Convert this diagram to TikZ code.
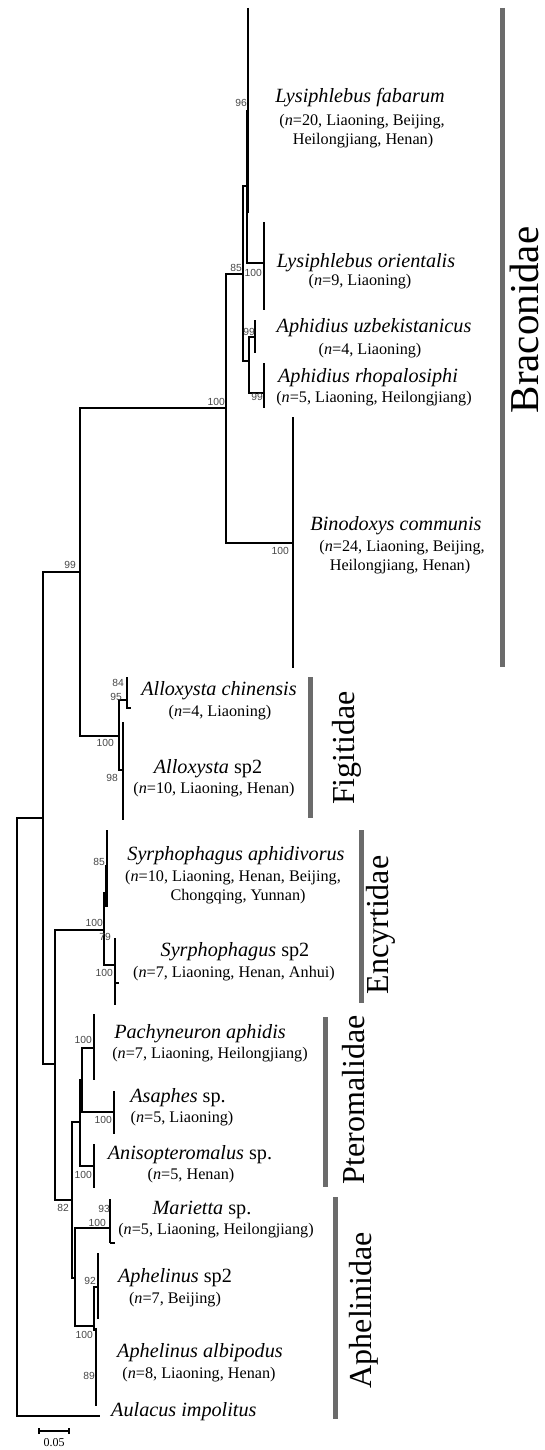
\documentclass[tikz,border=0pt]{standalone}
\usepackage{fontspec}
\setmainfont{Liberation Serif}
\newfontfamily\bsfont{Liberation Sans}
\begin{document}
\begin{tikzpicture}[x=1pt,y=-1pt,
  br/.style={line width=1.7pt},
  thk/.style={line width=2.8pt},
  sp/.style={font=\fontsize{20.2}{22}\selectfont\itshape, inner sep=0pt, text height=0.7em, text depth=0.22em},
  loc/.style={font=\fontsize{16.2}{18}\selectfont, inner sep=0pt, text height=0.7em, text depth=0.22em},
  bs/.style={font=\bsfont\fontsize{10.3}{11}\selectfont, text=black!72, inner sep=0pt, anchor=east},
  fam/.style={font=\fontsize{32}{34}\selectfont, rotate=90, inner sep=0pt},
  bar/.style={line width=5pt, draw=black!58}]
\useasboundingbox (0,0) rectangle (544,1450);
% ---- inner nodes and tip attachment points
\coordinate (R) at (17,1100);
\coordinate (I) at (43,818);
\coordinate (BF) at (80,572);
\coordinate (Br) at (226,408);
\coordinate (N85) at (243,274);
\coordinate (Lys) at (247,186);
\coordinate (LOt) at (264,263);
\coordinate (Aph) at (249,361);
\coordinate (AUt) at (255,337);
\coordinate (ARt) at (264,393);
\coordinate (Bint) at (293,543);
\coordinate (Fi) at (119,736);
\coordinate (ACt) at (127,700);
\coordinate (ASt) at (123,770);
\coordinate (Ch) at (55,1064);
\coordinate (Enc) at (104,930);
\coordinate (SAt) at (107,893);
\coordinate (SSt) at (115,965);
\coordinate (PA) at (72,1200);
\coordinate (Pt) at (80,1122);
\coordinate (PAs) at (82,1080);
\coordinate (Pat) at (94,1048);
\coordinate (Ast) at (114,1112);
\coordinate (Ant) at (94,1166);
\coordinate (Ap) at (75,1278);
\coordinate (Mat) at (110,1228);
\coordinate (Aph2) at (94,1326);
\coordinate (A2t) at (98,1287);
\coordinate (AAt) at (96,1330);
\coordinate (Ault) at (100,1416);
% ---- branches
\draw[br] (R) |- (I);
\draw[br] (R) |- (Ault);
\draw[br] (I) |- (BF);
\draw[br] (I) |- (Ch);
\draw[br] (BF) |- (Br);
\draw[br] (BF) |- (Fi);
\draw[br] (Br) |- (N85);
\draw[br] (Br) |- (Bint);
\draw[br] (N85) |- (Lys);
\draw[br] (N85) |- (Aph);
\draw[br] (Lys) |- (LOt);
\draw[br] (Aph) |- (AUt);
\draw[br] (Aph) |- (ARt);
\draw[br] (Fi) |- (ACt);
\draw[br] (Fi) |- (ASt);
\draw[br] (Ch) |- (Enc);
\draw[br] (Ch) |- (PA);
\draw[br] (Enc) |- (SAt);
\draw[br] (Enc) |- (SSt);
\draw[br] (PA) |- (Pt);
\draw[br] (PA) |- (Ap);
\draw[br] (Pt) |- (PAs);
\draw[br] (Pt) |- (Ant);
\draw[br] (PAs) |- (Pat);
\draw[br] (PAs) |- (Ast);
\draw[br] (Ap) |- (Mat);
\draw[br] (Ap) |- (Aph2);
\draw[br] (Aph2) |- (A2t);
\draw[br] (Aph2) |- (AAt);
% ---- collapsed clades (tip bars)
\draw[br] (248,8) -- (248,213);
\draw[thk] (247.6,110) -- (247.6,213);
\draw[br] (264,222) -- (264,310);
\draw[br] (255,320) -- (255,353);
\draw[br] (264,363) -- (264,408);
\draw[br] (293,417) -- (293,668);
\draw[thk] (127,677) -- (127,703);
\draw[br] (127,700) -- (127,708) -- (131,708);
\draw[br] (123,722) -- (123,820);
\draw[br] (107,830) -- (107,907);
\draw[thk] (106.5,865) -- (106.5,907);
\draw[br] (104,893) -- (107,893);
\draw[br] (115,938) -- (115,1005);
\draw[br] (115,983) -- (119,983);
\draw[br] (94,1014) -- (94,1080);
\draw[br] (114,1091) -- (114,1134);
\draw[br] (94,1144) -- (94,1188);
\draw[thk] (110,1199) -- (110,1243);
\draw[br] (110,1243) -- (115,1243);
\draw[br] (98,1253) -- (98,1319);
\draw[thk] (96,1328) -- (96,1406);
% ---- bootstrap values
\node[bs] (b96) at (247,103) {96};
\node[bs] (b85a) at (242,268) {85};
\node[bs] (b100a) at (262,273) {100};
\node[bs] (b99a) at (255,332) {99};
\node[bs] (b99b) at (263,397) {99};
\node[bs] (b100b) at (225,402) {100};
\node[bs] (b100c) at (289,551) {100};
\node[bs] (b99c) at (76,565) {99};
\node[bs] (b84) at (124,683) {84};
\node[bs] (b95) at (122,697) {95};
\node[bs] (b100d) at (114,743) {100};
\node[bs] (b98) at (118,778) {98};
\node[bs] (b85b) at (105,862) {85};
\node[bs] (b100e) at (103,923) {100};
\node[bs] (b79) at (111,937) {79};
\node[bs] (b100f) at (113,973) {100};
\node[bs] (b100g) at (92,1040) {100};
\node[bs] (b100h) at (112,1120) {100};
\node[bs] (b100i) at (92,1175) {100};
\node[bs] (b82) at (69,1208) {82};
\node[bs] (b93) at (110,1209) {93};
\node[bs] (b100j) at (106,1223) {100};
\node[bs] (b92) at (96,1281) {92};
\node[bs] (b100k) at (93,1335) {100};
\node[bs] (b89) at (95,1376) {89};
% ---- taxon labels
\node[sp] (t1) at (360,100) {Lysiphlebus fabarum};
\node[loc] (t1a) at (362,123) {(\textit{n}=20, Liaoning, Beijing,};
\node[loc] (t1b) at (363,142) {Heilongjiang, Henan)};
\node[sp] (t2) at (366,265) {Lysiphlebus orientalis};
\node[loc] (t2a) at (360,283) {(\textit{n}=9, Liaoning)};
\node[sp] (t3) at (374,330) {Aphidius uzbekistanicus};
\node[loc] (t3a) at (370,352) {(\textit{n}=4, Liaoning)};
\node[sp] (t4) at (368,380) {Aphidius rhopalosiphi};
\node[loc] (t4a) at (374,400) {(\textit{n}=5, Liaoning, Heilongjiang)};
\node[sp] (t5) at (396,528) {Binodoxys communis};
\node[loc] (t5a) at (402,549) {(\textit{n}=24, Liaoning, Beijing,};
\node[loc] (t5b) at (400,568) {Heilongjiang, Henan)};
\node[sp] (t6) at (219,693) {Alloxysta chinensis};
\node[loc] (t6a) at (220,714) {(\textit{n}=4, Liaoning)};
\node[sp] (t7) at (208,771) {Alloxysta \textup{sp2}};
\node[loc] (t7a) at (214,791) {(\textit{n}=10, Liaoning, Henan)};
\node[sp] (t8) at (236,858) {Syrphophagus aphidivorus};
\node[loc] (t8a) at (233,879) {(\textit{n}=10, Liaoning, Henan, Beijing,};
\node[loc] (t8b) at (238,898) {Chongqing, Yunnan)};
\node[sp] (t9) at (235,954) {Syrphophagus \textup{sp2}};
\node[loc] (t9a) at (234,975) {(\textit{n}=7, Liaoning, Henan, Anhui)};
\node[sp] (t10) at (200,1036) {Pachyneuron aphidis};
\node[loc] (t10a) at (210,1056) {(\textit{n}=7, Liaoning, Heilongjiang)};
\node[sp] (t11) at (178,1100) {Asaphes \textup{sp.}};
\node[loc] (t11a) at (182,1120) {(\textit{n}=5, Liaoning)};
\node[sp] (t12) at (190,1157) {Anisopteromalus \textup{sp.}};
\node[loc] (t12a) at (191,1177) {(\textit{n}=5, Henan)};
\node[sp] (t13) at (202,1212) {Marietta \textup{sp.}};
\node[loc] (t13a) at (216,1232) {(\textit{n}=5, Liaoning, Heilongjiang)};
\node[sp] (t14) at (175,1280) {Aphelinus \textup{sp2}};
\node[loc] (t14a) at (175,1301) {(\textit{n}=7, Beijing)};
\node[sp] (t15) at (200,1355) {Aphelinus albipodus};
\node[loc] (t15a) at (199,1376) {(\textit{n}=8, Liaoning, Henan)};
\node[sp, anchor=west] (t16) at (111,1414) {Aulacus impolitus};
% ---- family bars and names
\draw[bar] (502,8) -- (502,667);
\draw[bar] (310,677) -- (310,818);
\draw[bar] (361,830) -- (361,1003);
\draw[bar] (325,1017) -- (325,1187);
\draw[bar] (335,1197) -- (335,1419);
\node[fam, font=\fontsize{41}{43}\selectfont] (f1) at (524,320) {Braconidae};
\node[fam] (f2) at (347,748) {Figitidae};
\node[fam] (f3) at (381,925) {Encyrtidae};
\node[fam] (f4) at (354,1100) {Pteromalidae};
\node[fam] (f5) at (364,1310) {Aphelinidae};
% ---- scale bar
\coordinate (s1) at (39,1431);
\coordinate (s2) at (69,1431);
\draw[line width=1.3pt] (s1) -- (s2);
\draw[line width=1.2pt] ([yshift=-3pt]s1) -- ([yshift=3pt]s1);
\draw[line width=1.2pt] ([yshift=-3pt]s2) -- ([yshift=3pt]s2);
\node[font=\fontsize{12}{13}\selectfont, inner sep=0pt] (sl) at (54,1443) {0.05};
\end{tikzpicture}
\end{document}
